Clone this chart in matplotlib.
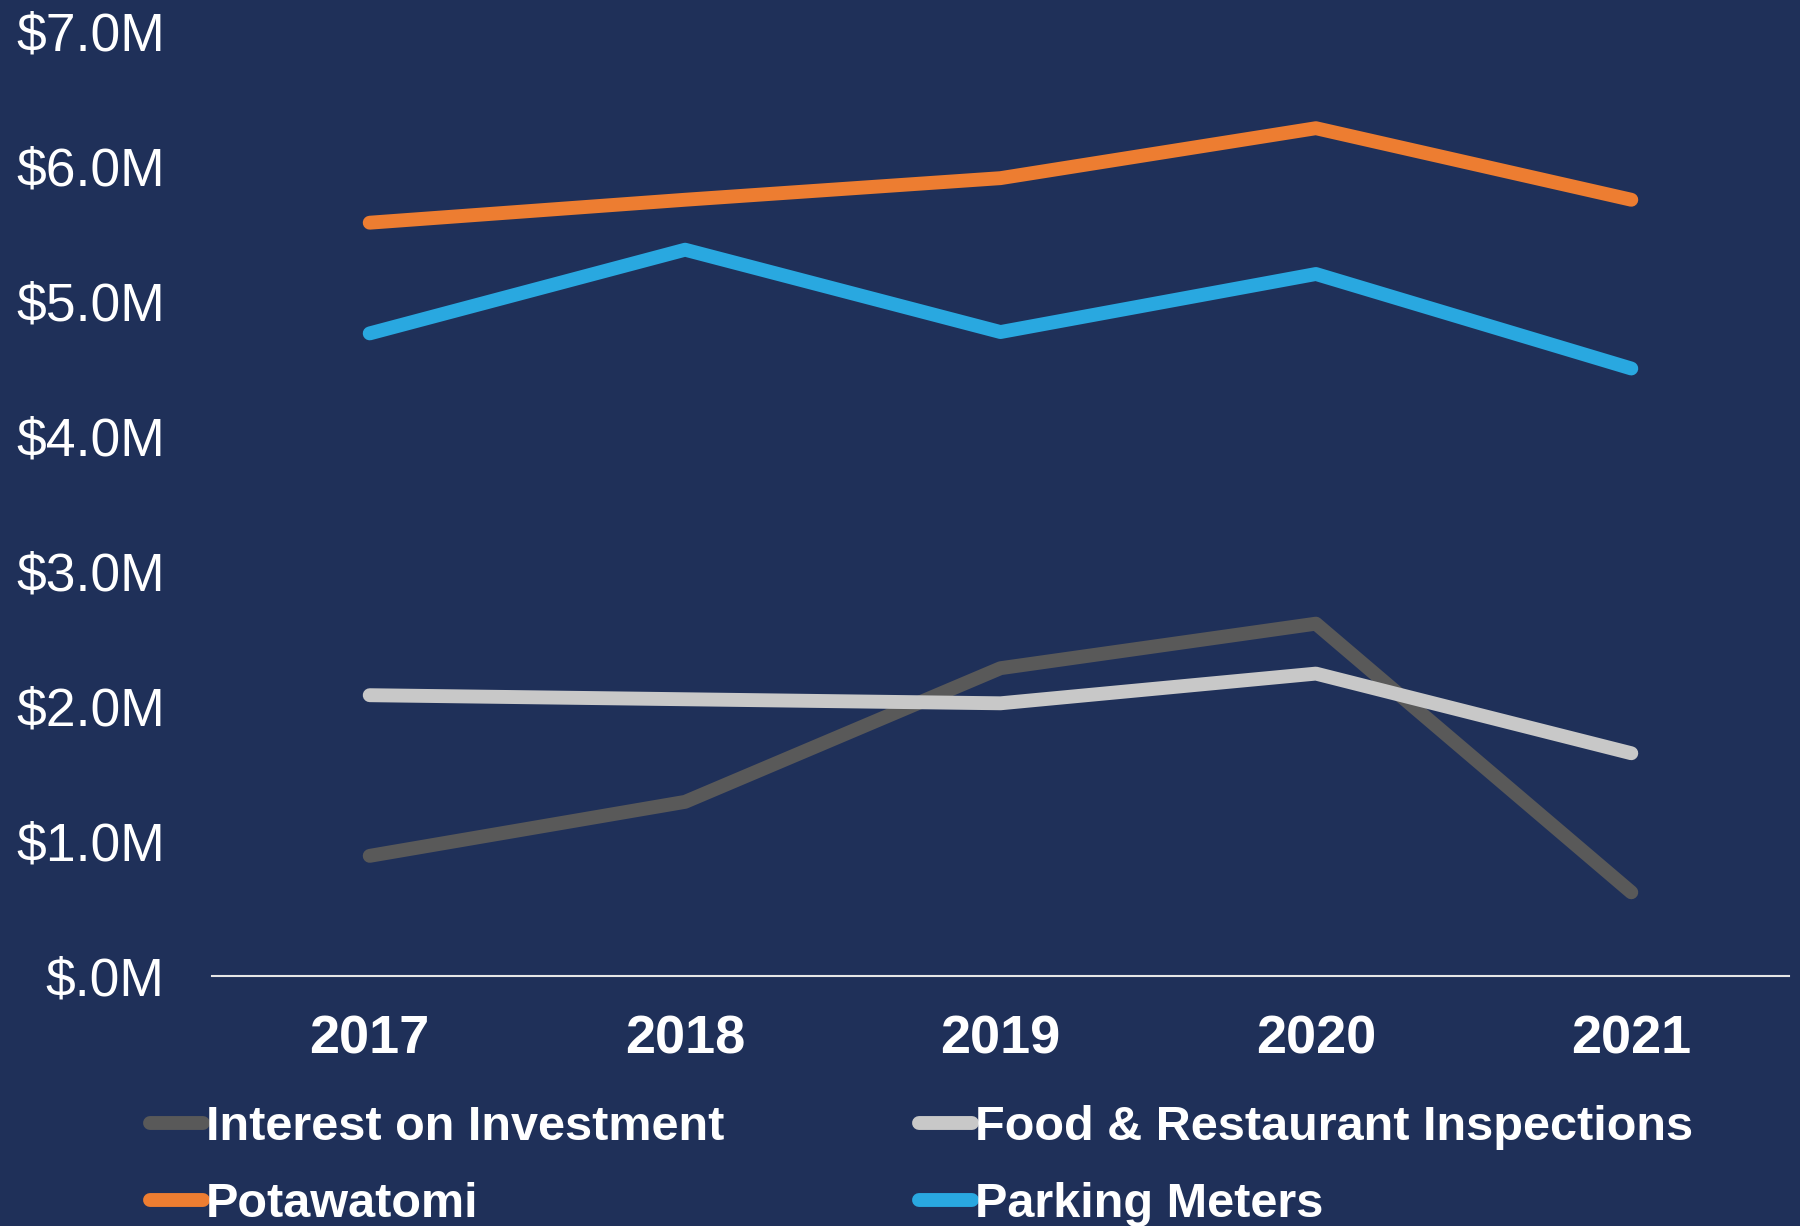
import matplotlib
matplotlib.use('Agg')
from matplotlib import pyplot as plt
from matplotlib.ticker import FuncFormatter

years = ['2017', '2018', '2019', '2020', '2021']
interest = [0.89, 1.29, 2.28, 2.61, 0.62]
food = [2.08, 2.05, 2.02, 2.24, 1.65]
potawatomi = [5.58, 5.75, 5.91, 6.28, 5.75]
parking = [4.76, 5.38, 4.77, 5.20, 4.50]

bg = '#1F3059'
plt.rcParams['font.family'] = ['Liberation Sans', 'DejaVu Sans']

fig = plt.figure(figsize=(18, 12.26), dpi=100)
fig.patch.set_facecolor(bg)
ax = fig.add_axes([212 / 1800, 1 - 976 / 1226, (1789 - 212) / 1800, (976 - 31) / 1226])
ax.set_facecolor(bg)

x = range(len(years))
lw = 10
l_int, = ax.plot(x, interest, color='#595959', lw=lw, solid_capstyle='round', label='Interest on Investment')
l_food, = ax.plot(x, food, color='#C8C8C8', lw=lw, solid_capstyle='round', label='Food & Restaurant Inspections')
l_pot, = ax.plot(x, potawatomi, color='#ED7D31', lw=lw, solid_capstyle='round', label='Potawatomi')
l_park, = ax.plot(x, parking, color='#29A8E0', lw=lw, solid_capstyle='round', label='Parking Meters')

ax.set_xlim(-0.5, 4.5)
ax.set_ylim(0, 7)
ax.set_xticks(list(x))
ax.set_xticklabels(years, fontsize=39, fontweight='bold')
ax.set_yticks([0, 1, 2, 3, 4, 5, 6, 7])
ax.yaxis.set_major_formatter(FuncFormatter(lambda v, p: '$.0M' if v == 0 else '${:.1f}M'.format(v)))
ax.tick_params(colors='white', length=0)
ax.tick_params(axis='y', pad=34, labelsize=38.5)
ax.tick_params(axis='x', pad=28)
for s in ['top', 'right', 'left']:
    ax.spines[s].set_visible(False)
ax.spines['bottom'].set_color('#E6E6E6')
ax.spines['bottom'].set_linewidth(1.5)

leg = fig.legend([l_int, l_pot, l_food, l_park],
                 ['Interest on Investment', 'Potawatomi', 'Food & Restaurant Inspections', 'Parking Meters'],
                 ncol=2, loc='upper left', bbox_to_anchor=(150 / 1800, 1 - 1105 / 1226),
                 frameon=False, labelcolor='white', handlelength=1.1,
                 prop={'size': 35, 'weight': 'bold'},
                 handletextpad=0.05, columnspacing=4.0, labelspacing=0.66, borderaxespad=0, borderpad=0)

fig.savefig('out.png', dpi=100, facecolor=bg)
